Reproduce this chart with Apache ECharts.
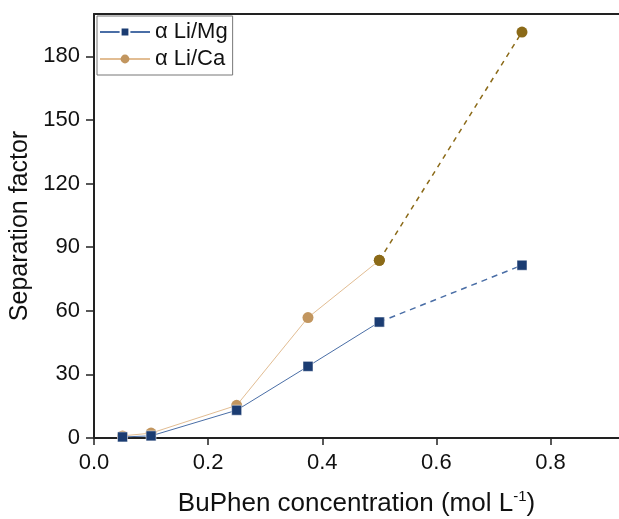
<!DOCTYPE html>
<html>
<head>
<meta charset="utf-8">
<script src="https://cdn.jsdelivr.net/npm/echarts@6/dist/echarts.min.js"></script>
<style>
  html, body { margin: 0; padding: 0; background: #fff; }
  #chart { width: 619px; height: 519px; }
</style>
</head>
<body>
<div id="chart"></div>
<script>
// BuPhen concentration (mol/L)
const concentrations = [0.05, 0.1, 0.25, 0.375, 0.5, 0.75];
const sepLiMg = [0.5, 1.0, 13.1, 33.8, 54.7, 81.5];
const sepLiCa = [1.0, 2.3, 15.4, 56.8, 83.8, 191.5];
const xTicks = [0, 0.2, 0.4, 0.6, 0.8];
const yTicks = [0, 30, 60, 90, 120, 150, 180];

const mgLine = '#4a6ea6';
const mgMark = '#1b3c72';
const caLine = '#e2bd93';
const caMark = '#c2965f';
const caDark = '#8b6a18';

const pairs = (ys, from, to) => concentrations.slice(from, to).map((x, i) => [x, ys[from + i]]);

const chart = echarts.init(document.getElementById('chart'));

const font = 'Liberation Sans, Arial, sans-serif';
const axisText = { color: '#111', fontSize: 22, fontFamily: font };

chart.setOption({
  backgroundColor: '#fff',
  animation: false,
  grid: { left: 94, top: 14, right: 0, bottom: 81, outerBoundsMode: 'none', containLabel: false },
  legend: {
    left: 97, top: 16,
    orient: 'vertical',
    data: ['α Li/Mg', 'α Li/Ca'],
    itemWidth: 50, itemHeight: 11, itemGap: 5,
    padding: [5, 5, 5, 2],
    borderColor: '#777', borderWidth: 1,
    textStyle: { ...axisText }
  },
  xAxis: [{
    type: 'value', min: 0, max: 0.92,
    name: 'BuPhen concentration (mol L{sup|-1})',
    nameLocation: 'middle', nameGap: 51,
    nameTextStyle: {
      ...axisText, fontSize: 26,
      rich: { sup: { fontSize: 15, verticalAlign: 'top', padding: [0, 0, 14, 0], color: '#111', fontFamily: font } }
    },
    axisLine: { onZero: false, lineStyle: { color: '#222', width: 2 } },
    axisTick: { length: 7, customValues: xTicks, lineStyle: { color: '#222', width: 1.5 } },
    axisLabel: { ...axisText, margin: 14, customValues: xTicks, formatter: v => v.toFixed(1) },
    splitLine: { show: false }
  }, {
    type: 'value', position: 'top', min: 0, max: 0.92,
    axisLine: { show: true, onZero: false, lineStyle: { color: '#222', width: 2 } },
    axisTick: { show: false }, axisLabel: { show: false }, splitLine: { show: false }
  }],
  yAxis: {
    type: 'value', min: 0, max: 200,
    name: 'Separation factor',
    nameLocation: 'middle', nameGap: 52,
    nameTextStyle: { ...axisText, fontSize: 25 },
    axisLine: { show: true, onZero: false, lineStyle: { color: '#222', width: 2 } },
    axisTick: { length: 8, customValues: yTicks, lineStyle: { color: '#222', width: 1.5 } },
    axisLabel: { ...axisText, margin: 14, customValues: yTicks },
    splitLine: { show: false }
  },
  series: [
    {
      name: 'α Li/Mg', type: 'line', data: pairs(sepLiMg, 0, 5),
      symbol: 'rect', symbolSize: 10,
      lineStyle: { color: mgLine, width: 1 },
      itemStyle: { color: mgMark, borderColor: '#fff', borderWidth: 0.5 },
      z: 3
    },
    {
      name: 'Li/Mg extension', type: 'line', data: pairs(sepLiMg, 4, 6),
      symbol: 'rect', symbolSize: 10,
      lineStyle: { color: mgLine, width: 1.5, type: [6, 5] },
      itemStyle: { color: mgMark, borderColor: '#fff', borderWidth: 0.5 },
      z: 3
    },
    {
      name: 'α Li/Ca', type: 'line',
      data: pairs(sepLiCa, 0, 5).map((p, i) => i === 4 ? { value: p, itemStyle: { color: caDark } } : p),
      symbol: 'circle', symbolSize: 11,
      lineStyle: { color: caLine, width: 1 },
      itemStyle: { color: caMark },
      z: 2
    },
    {
      name: 'Li/Ca extension', type: 'line', data: pairs(sepLiCa, 4, 6),
      symbol: 'circle', symbolSize: 11,
      lineStyle: { color: caDark, width: 1.5, type: [5, 5] },
      itemStyle: { color: caDark },
      z: 2
    }
  ]
});
</script>
</body>
</html>
